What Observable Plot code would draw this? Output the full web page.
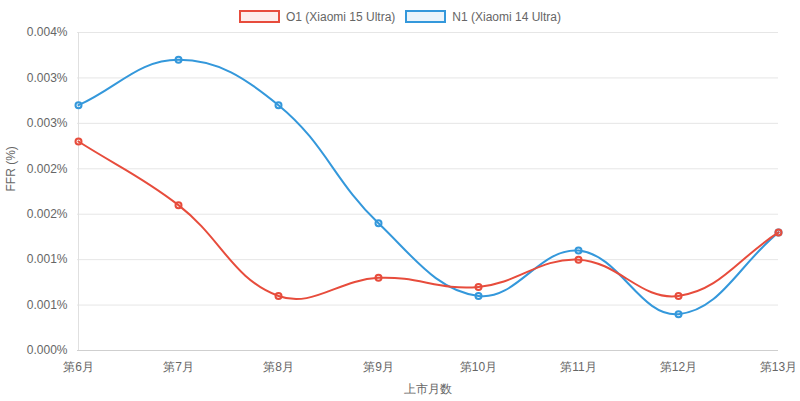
<!DOCTYPE html>
<html>
<head>
<meta charset="utf-8">
<script src="https://cdn.jsdelivr.net/npm/d3@7"></script>
<script src="https://cdn.jsdelivr.net/npm/@observablehq/plot@0.6"></script>
<style>
  html, body { margin: 0; padding: 0; background: #fff; }
  body { width: 800px; height: 401px; overflow: hidden; font-family: "Liberation Sans", Arial, Helvetica, sans-serif; }
  #legend { box-sizing: border-box; height: 26px; padding-top: 7px; display: flex; justify-content: center; align-items: center; font-size: 12px; color: #666; }
  .item { display: flex; align-items: center; margin: 0 5px; }
  .box { width: 37px; height: 9px; border: 2px solid; margin-right: 6px; }
</style>
</head>
<body>
<div id="legend"></div>
<div id="chart"></div>
<script>
const months = ["第6月", "第7月", "第8月", "第9月", "第10月", "第11月", "第12月", "第13月"];
const o1Values = [0.0023, 0.0016, 0.0006, 0.0008, 0.0007, 0.0010, 0.0006, 0.0013];
const n1Values = [0.0027, 0.0032, 0.0027, 0.0014, 0.0006, 0.0011, 0.0004, 0.0013];
const yTicks = [0, 0.0005, 0.001, 0.0015, 0.002, 0.0025, 0.003, 0.0035];
const seriesNames = ["O1 (Xiaomi 15 Ultra)", "N1 (Xiaomi 14 Ultra)"];
const seriesColors = ["#e74c3c", "#3498db"];
const seriesFills = ["rgba(231,76,60,0.1)", "rgba(52,152,219,0.1)"];

const o1 = months.map((m, i) => ({month: m, value: o1Values[i]}));
const n1 = months.map((m, i) => ({month: m, value: n1Values[i]}));

// Chart.js-like spline (tension 0.4)
function chartjsCurve(context) {
  let pts;
  return {
    areaStart() {}, areaEnd() {},
    lineStart() { pts = []; },
    point(x, y) { pts.push([+x, +y]); },
    lineEnd() {
      const n = pts.length;
      if (!n) return;
      const t = 0.4;
      const cp = pts.map((p, i) => {
        const prev = pts[i - 1] || p, next = pts[i + 1] || p;
        const d01 = Math.hypot(p[0] - prev[0], p[1] - prev[1]);
        const d12 = Math.hypot(next[0] - p[0], next[1] - p[1]);
        let s01 = d01 / (d01 + d12), s12 = d12 / (d01 + d12);
        if (isNaN(s01)) s01 = 0;
        if (isNaN(s12)) s12 = 0;
        const fa = t * s01, fb = t * s12;
        return {
          prev: [p[0] - fa * (next[0] - prev[0]), p[1] - fa * (next[1] - prev[1])],
          next: [p[0] + fb * (next[0] - prev[0]), p[1] + fb * (next[1] - prev[1])]
        };
      });
      context.moveTo(pts[0][0], pts[0][1]);
      for (let i = 1; i < n; i++) {
        context.bezierCurveTo(cp[i - 1].next[0], cp[i - 1].next[1], cp[i].prev[0], cp[i].prev[1], pts[i][0], pts[i][1]);
      }
    }
  };
}

// legend
const legend = document.getElementById("legend");
seriesNames.forEach((name, i) => {
  const item = document.createElement("div");
  item.className = "item";
  const box = document.createElement("div");
  box.className = "box";
  box.style.borderColor = seriesColors[i];
  box.style.background = seriesFills[i];
  const label = document.createElement("span");
  label.textContent = name;
  item.appendChild(box);
  item.appendChild(label);
  legend.appendChild(item);
});

const chart = Plot.plot({
  width: 800,
  height: 375,
  marginTop: 6,
  marginLeft: 77,
  marginRight: 22,
  marginBottom: 51,
  style: {fontFamily: "'Liberation Sans', Arial, Helvetica, sans-serif", fontSize: "12px", color: "#666", background: "#fff"},
  x: {type: "point", domain: months, padding: 0, label: null},
  y: {domain: [0, 0.0035], label: null},
  marks: [
    Plot.ruleY(yTicks.slice(1), {stroke: "#e6e6e6", strokeWidth: 1}),
    Plot.ruleX([months[0]], {stroke: "#e0e0e0", strokeWidth: 1}),
    Plot.ruleY([0], {stroke: "#cfcfcf", strokeWidth: 1}),
    Plot.axisY({ticks: yTicks, tickSize: 0, tickPadding: 10, tickFormat: d => d.toFixed(3) + "%", label: null, fill: "#666", fontSize: 12}),
    Plot.axisX({tickSize: 0, tickPadding: 12, label: null, fill: "#666", fontSize: 12}),
    Plot.text(["上市月数"], {frameAnchor: "bottom", dy: 42, fill: "#666", fontSize: 12}),
    Plot.text(["FFR (%)"], {frameAnchor: "left", dx: -66, rotate: -90, fill: "#666", fontSize: 12}),
    Plot.line(n1, {x: "month", y: "value", stroke: seriesColors[1], strokeWidth: 2, curve: chartjsCurve}),
    Plot.dot(n1, {x: "month", y: "value", r: 3, fill: seriesFills[1], stroke: seriesColors[1], strokeWidth: 2}),
    Plot.line(o1, {x: "month", y: "value", stroke: seriesColors[0], strokeWidth: 2, curve: chartjsCurve}),
    Plot.dot(o1, {x: "month", y: "value", r: 3, fill: seriesFills[0], stroke: seriesColors[0], strokeWidth: 2})
  ]
});
document.getElementById("chart").appendChild(chart);
</script>
</body>
</html>
